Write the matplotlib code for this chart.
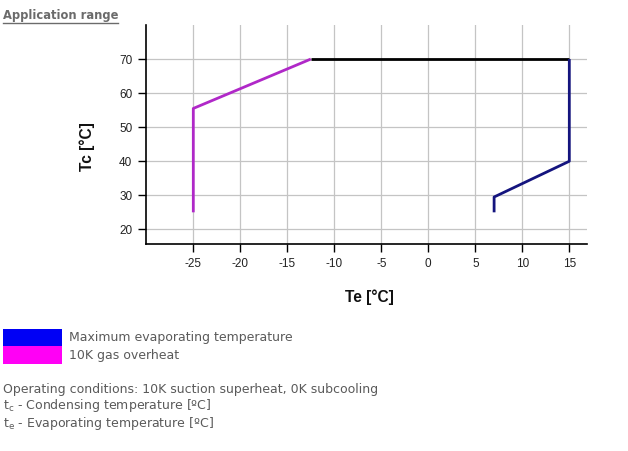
import matplotlib
matplotlib.use("Agg")
import matplotlib.pyplot as plt
from matplotlib.patches import Rectangle

# Data
gas_te = [-25, -25, -12.5]
gas_tc = [25, 55.5, 70]
top_te = [-12.5, 15]
top_tc = [70, 70]
evap_te = [15, 15, 7, 7]
evap_tc = [70, 40, 29.5, 25]
x_ticks = [-25, -20, -15, -10, -5, 0, 5, 10, 15]
y_ticks = [20, 30, 40, 50, 60, 70]
legend_labels = ["Maximum evaporating temperature", "10K gas overheat"]

W, H = 628, 451
fig = plt.figure(figsize=(W / 100, H / 100), dpi=100)
fig.patch.set_facecolor("white")

def fx(px):
    return px / W

def fy(py):
    return 1 - py / H

ax = fig.add_axes([fx(146.3), fy(244), fx(586.7) - fx(146.3), fy(25) - fy(244)])
ax.set_xlim(-30, 16.85)
ax.set_ylim(15.7, 80)
for s in ["top", "right"]:
    ax.spines[s].set_visible(False)
for s in ["left", "bottom"]:
    ax.spines[s].set_linewidth(1.2)
    ax.spines[s].set_color("black")
ax.set_xticks(x_ticks)
ax.set_yticks(y_ticks)
ax.set_xticklabels([str(v) for v in x_ticks], family="Liberation Sans", fontsize=8.5, color="#222222")
ax.set_yticklabels([str(v) for v in y_ticks], family="Liberation Sans", fontsize=8.5, color="#222222")
ax.tick_params(axis="both", length=6, width=1.0, color="black", direction="out", pad=4)
ax.grid(True, color="#c4c4c4", linewidth=0.9)
ax.set_axisbelow(True)

ax.plot(gas_te, gas_tc, color="#b028c8", linewidth=2.0, solid_capstyle="butt", zorder=3)
ax.plot(top_te, top_tc, color="black", linewidth=2.0, solid_capstyle="butt", zorder=3)
ax.plot(evap_te, evap_tc, color="#14147e", linewidth=2.0, solid_capstyle="butt", zorder=3)

fig.text(fx(369), fy(297), "Te [°C]", family="Liberation Sans", fontweight="bold",
         fontsize=11.2, ha="center", va="center", color="#111111")
fig.text(fx(87), fy(147), "Tc [°C]", family="Liberation Sans", fontweight="bold",
         fontsize=11.2, ha="center", va="center", rotation=90, color="#111111")

# Title
fig.text(fx(3), fy(16), "Application range", family="DejaVu Sans", fontweight="bold",
         fontsize=8.3, ha="left", va="center", color="#6b6b6b")
fig.add_artist(plt.Line2D([fx(3), fx(118)], [fy(23), fy(23)], color="#6b6b6b", linewidth=1.0))

# Legend boxes
fig.add_artist(Rectangle((fx(3), fy(346)), fx(62) - fx(3), fy(329) - fy(346),
                         facecolor="#0000f5", edgecolor="none", transform=fig.transFigure))
fig.add_artist(Rectangle((fx(3), fy(364)), fx(62) - fx(3), fy(346) - fy(364),
                         facecolor="#ff00f5", edgecolor="none", transform=fig.transFigure))
txt_kw = dict(family="DejaVu Sans", fontsize=9.0, ha="left", va="center", color="#5a5a5a")
fig.text(fx(69), fy(338), legend_labels[0], **txt_kw)
fig.text(fx(69), fy(356), legend_labels[1], **txt_kw)

fig.text(fx(3), fy(389), "Operating conditions: 10K suction superheat, 0K subcooling", **txt_kw)
fig.text(fx(3), fy(406), r"t$_{\mathregular{c}}$ - Condensing temperature [ºC]", **txt_kw)
fig.text(fx(3), fy(424), r"t$_{\mathregular{e}}$ - Evaporating temperature [ºC]", **txt_kw)

fig.savefig("out.png", dpi=100, facecolor="white")
